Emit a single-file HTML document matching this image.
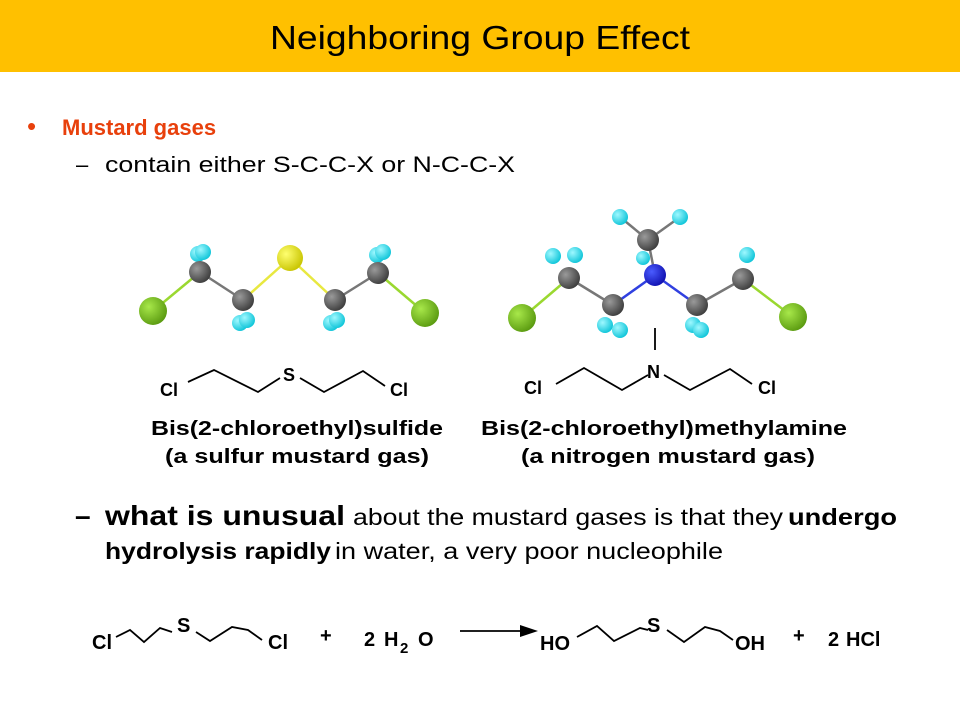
<!DOCTYPE html>
<html><head><meta charset="utf-8"><style>
html,body{margin:0;padding:0;background:#fff;}
svg{display:block;font-family:"Liberation Sans",Arial,sans-serif;}
</style></head><body>
<svg width="960" height="720" viewBox="0 0 960 720" xmlns="http://www.w3.org/2000/svg">
<defs>
<radialGradient id="gC" cx="35%" cy="35%" r="70%"><stop offset="0" stop-color="#9a9a9a"/><stop offset="1" stop-color="#3c3c3c"/></radialGradient>
<radialGradient id="gH" cx="35%" cy="35%" r="70%"><stop offset="0" stop-color="#9ff8ff"/><stop offset="1" stop-color="#0cc4d8"/></radialGradient>
<radialGradient id="gCl" cx="35%" cy="35%" r="70%"><stop offset="0" stop-color="#a8e84a"/><stop offset="1" stop-color="#5a9a10"/></radialGradient>
<radialGradient id="gS" cx="35%" cy="35%" r="70%"><stop offset="0" stop-color="#ffff70"/><stop offset="1" stop-color="#c8c400"/></radialGradient>
<radialGradient id="gN" cx="35%" cy="35%" r="70%"><stop offset="0" stop-color="#4a5cff"/><stop offset="1" stop-color="#1010b0"/></radialGradient>
</defs>
<rect x="0" y="0" width="960" height="72" fill="#FFC000"/>
<text x="480" y="49" font-size="33" text-anchor="middle" fill="#000" textLength="420" lengthAdjust="spacingAndGlyphs">Neighboring Group Effect</text>

<text x="27" y="135" font-size="26" fill="#E8400C">•</text>
<text x="62" y="135" font-size="22" font-weight="bold" fill="#E8400C">Mustard gases</text>
<text x="76" y="172" font-size="22" fill="#000">–</text>
<text x="105" y="172" font-size="22" fill="#000" textLength="410" lengthAdjust="spacingAndGlyphs">contain either S-C-C-X or N-C-C-X</text>

<g stroke-width="2.5" fill="none">
<line x1="153" y1="311" x2="200" y2="272" stroke="#9ad830"/>
<line x1="200" y1="272" x2="243" y2="300" stroke="#777"/>
<line x1="243" y1="300" x2="290" y2="258" stroke="#e8e840"/>
<line x1="290" y1="258" x2="335" y2="300" stroke="#e8e840"/>
<line x1="335" y1="300" x2="378" y2="273" stroke="#777"/>
<line x1="378" y1="273" x2="425" y2="313" stroke="#9ad830"/>
</g>
<g>
<circle cx="198" cy="254" r="8" fill="url(#gH)"/><circle cx="203" cy="252" r="8" fill="url(#gH)"/>
<circle cx="377" cy="255" r="8" fill="url(#gH)"/><circle cx="383" cy="252" r="8" fill="url(#gH)"/>
<circle cx="153" cy="311" r="14" fill="url(#gCl)"/>
<circle cx="425" cy="313" r="14" fill="url(#gCl)"/>
<circle cx="200" cy="272" r="11" fill="url(#gC)"/>
<circle cx="378" cy="273" r="11" fill="url(#gC)"/>
<circle cx="243" cy="300" r="11" fill="url(#gC)"/>
<circle cx="335" cy="300" r="11" fill="url(#gC)"/>
<circle cx="290" cy="258" r="13" fill="url(#gS)"/>
<circle cx="240" cy="323" r="8" fill="url(#gH)"/><circle cx="247" cy="320" r="8" fill="url(#gH)"/>
<circle cx="331" cy="323" r="8" fill="url(#gH)"/><circle cx="337" cy="320" r="8" fill="url(#gH)"/>
</g>

<g stroke-width="2.5" fill="none">
<line x1="522" y1="318" x2="569" y2="278" stroke="#9ad830"/>
<line x1="569" y1="278" x2="613" y2="305" stroke="#777"/>
<line x1="613" y1="305" x2="655" y2="275" stroke="#3040e0"/>
<line x1="655" y1="275" x2="697" y2="305" stroke="#3040e0"/>
<line x1="697" y1="305" x2="743" y2="279" stroke="#777"/>
<line x1="743" y1="279" x2="793" y2="317" stroke="#9ad830"/>
<line x1="655" y1="275" x2="648" y2="240" stroke="#777"/>
<line x1="648" y1="240" x2="620" y2="217" stroke="#777"/>
<line x1="648" y1="240" x2="680" y2="217" stroke="#777"/>
</g>
<g>
<circle cx="620" cy="217" r="8" fill="url(#gH)"/><circle cx="680" cy="217" r="8" fill="url(#gH)"/>
<circle cx="648" cy="240" r="11" fill="url(#gC)"/>
<circle cx="643" cy="258" r="7" fill="url(#gH)"/>
<circle cx="553" cy="256" r="8" fill="url(#gH)"/><circle cx="575" cy="255" r="8" fill="url(#gH)"/>
<circle cx="747" cy="255" r="8" fill="url(#gH)"/>
<circle cx="522" cy="318" r="14" fill="url(#gCl)"/>
<circle cx="793" cy="317" r="14" fill="url(#gCl)"/>
<circle cx="569" cy="278" r="11" fill="url(#gC)"/>
<circle cx="743" cy="279" r="11" fill="url(#gC)"/>
<circle cx="613" cy="305" r="11" fill="url(#gC)"/>
<circle cx="697" cy="305" r="11" fill="url(#gC)"/>
<circle cx="655" cy="275" r="11" fill="url(#gN)"/>
<circle cx="605" cy="325" r="8" fill="url(#gH)"/><circle cx="620" cy="330" r="8" fill="url(#gH)"/>
<circle cx="693" cy="325" r="8" fill="url(#gH)"/><circle cx="701" cy="330" r="8" fill="url(#gH)"/>
</g>

<g stroke="#000" stroke-width="1.8" fill="none">
<polyline points="188,382 214,370 258,392 280,378"/>
<polyline points="300,378 324,392 363,371 385,386"/>
<polyline points="556,384 584,368 622,390 648,375"/>
<line x1="655" y1="328" x2="655" y2="350"/>
<polyline points="664,375 690,390 730,369 752,384"/>
</g>
<g font-size="18" font-weight="bold" fill="#000">
<text x="160" y="396">Cl</text>
<text x="283" y="381">S</text>
<text x="390" y="396">Cl</text>
<text x="524" y="394">Cl</text>
<text x="647" y="378">N</text>
<text x="758" y="394">Cl</text>
</g>
<g font-size="20" font-weight="bold" fill="#000" text-anchor="middle">
<text x="297" y="435" textLength="292" lengthAdjust="spacingAndGlyphs">Bis(2-chloroethyl)sulfide</text>
<text x="297" y="463" textLength="264" lengthAdjust="spacingAndGlyphs">(a sulfur mustard gas)</text>
<text x="664" y="435" textLength="366" lengthAdjust="spacingAndGlyphs">Bis(2-chloroethyl)methylamine</text>
<text x="668" y="463" textLength="294" lengthAdjust="spacingAndGlyphs">(a nitrogen mustard gas)</text>
</g>

<text x="75" y="525" font-size="28" font-weight="bold" fill="#000">–</text>
<text x="105" y="525" font-size="28" font-weight="bold" fill="#000" textLength="240" lengthAdjust="spacingAndGlyphs">what is unusual</text>
<text x="353" y="525" font-size="23" fill="#000" textLength="430" lengthAdjust="spacingAndGlyphs">about the mustard gases is that they</text>
<text x="788" y="525" font-size="23" font-weight="bold" fill="#000" textLength="109" lengthAdjust="spacingAndGlyphs">undergo</text>
<text x="105" y="559" font-size="23" font-weight="bold" fill="#000" textLength="226" lengthAdjust="spacingAndGlyphs">hydrolysis rapidly</text>
<text x="335" y="559" font-size="23" fill="#000" textLength="388" lengthAdjust="spacingAndGlyphs">in water, a very poor nucleophile</text>

<g stroke="#000" stroke-width="1.8" fill="none">
<polyline points="116,637 130,630 144,642 160,628 172,632"/>
<polyline points="196,632 210,641 232,627 248,630 262,640"/>
<polyline points="577,637 597,626 614,641 640,628 648,630"/>
<polyline points="667,630 684,642 705,627 720,631 733,640"/>
<line x1="460" y1="631" x2="522" y2="631"/>
</g>
<polygon points="520,625 538,631 520,637" fill="#000"/>
<g font-size="20" font-weight="bold" fill="#000">
<text x="92" y="649">Cl</text>
<text x="177" y="632">S</text>
<text x="268" y="649">Cl</text>
<text x="320" y="642">+</text>
<text x="364" y="646">2</text>
<text x="384" y="646">H</text>
<text x="400" y="653" font-size="15">2</text>
<text x="418" y="646">O</text>
<text x="540" y="650">HO</text>
<text x="647" y="632">S</text>
<text x="735" y="650">OH</text>
<text x="793" y="642">+</text>
<text x="828" y="646">2</text>
<text x="846" y="646">HCl</text>
</g>
</svg>
</body></html>
